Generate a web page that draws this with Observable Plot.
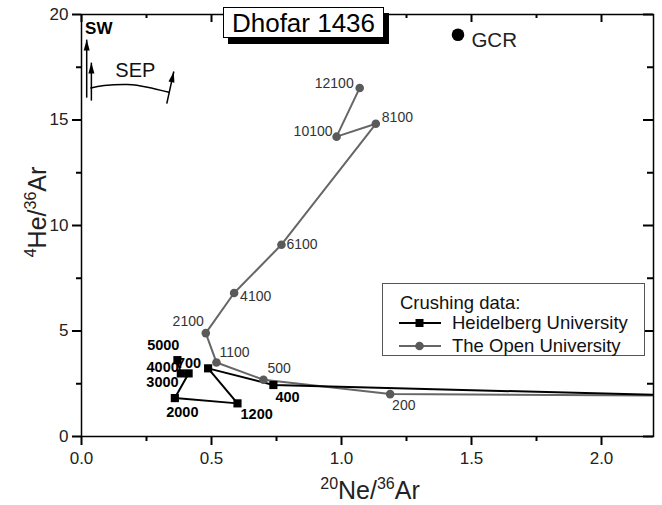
<!DOCTYPE html>
<html><head><meta charset="utf-8">
<script src="https://cdn.jsdelivr.net/npm/d3@7"></script>
<script src="https://cdn.jsdelivr.net/npm/@observablehq/plot@0.6"></script>
<style>
body{margin:0;background:#fff;font-family:"Liberation Sans",Arial,sans-serif;}
#wrap{position:relative;width:662px;height:505px;}
#title{position:absolute;left:223px;top:7px;width:159px;height:29px;border:1px solid #000;background:#fff;box-shadow:5px 6px 0 #000;font-size:26px;line-height:30px;text-align:center;color:#000;}
#legend{position:absolute;left:382px;top:283px;width:261px;height:71px;border:1px solid #555;background:#fff;font-size:18.5px;color:#111;}
#legend .row{position:absolute;left:0;height:22px;line-height:22px;white-space:nowrap;}
#legend .sw{position:absolute;left:15px;top:0;}
#legend .lab{position:absolute;left:69px;top:0;}
</style></head>
<body>
<div id="wrap"><div id="chart"></div>
<div id="title">Dhofar 1436</div>
<div id="legend">
  <div class="row" style="top:8px;left:17px">Crushing data:</div>
  <div class="row" style="top:28px;width:260px"><svg class="sw" width="44" height="22"><line x1="1" y1="11" x2="43" y2="11" stroke="#000" stroke-width="2"/><rect x="17.5" y="7" width="8" height="8" fill="#000"/></svg><span class="lab">Heidelberg University</span></div>
  <div class="row" style="top:51px;width:260px"><svg class="sw" width="44" height="22"><line x1="1" y1="11" x2="43" y2="11" stroke="#666" stroke-width="2"/><circle cx="21.5" cy="11" r="4.3" fill="#5a5a5a"/></svg><span class="lab">The Open University</span></div>
</div>
</div>
<script>
// The Open University crushing steps (last point lies beyond the x range)
const ouLabel = ["12100","10100","8100","6100","4100","2100","1100","500","200",""];
const ouNe = [1.070,0.981,1.132,0.769,0.587,0.478,0.519,0.700,1.187,3.0];
const ouHe = [16.52,14.21,14.82,9.09,6.80,4.90,3.51,2.69,2.01,1.90];
// Heidelberg University crushing steps (first point lies beyond the x range)
const hdLabel = ["","400","700","1200","2000","3000","4000","5000"];
const hdNe = [3.0,0.738,0.487,0.600,0.359,0.412,0.382,0.369];
const hdHe = [1.72,2.44,3.23,1.57,1.82,2.99,2.99,3.62];
// GCR end-member
const gcrNe = [1.448];
const gcrHe = [19.04];
// SW / SEP arrows (tail -> tip)
const arrowX1 = [0.020,0.038,0.328];
const arrowY1 = [16.06,15.92,15.78];
const arrowX2 = [0.020,0.038,0.355];
const arrowY2 = [18.81,17.72,17.30];
const sepCurveX = [0.036,0.087,0.177,0.254,0.337];
const sepCurveY = [16.52,16.63,16.68,16.55,16.31];
const xMajor = [0,0.5,1,1.5,2];
const xMinor = [0.25,0.75,1.25,1.75];
const yMajor = [0,5,10,15,20];
const yMinor = [2.5,7.5,12.5,17.5];

// label layout (pixels)
const ouAnchor = ["end","end","start","start","start","end","start","start","start","start"];
const ouDx = [-6,-4,6,5,6,-2,3,4,2,0];
const ouDy = [-4,-5,-6,0,3,-12,-10,-11,11,0];
const hdAnchor = ["start","start","end","start","middle","end","end","end"];
const hdDx = [0,2,-7,3,7.5,-10,-2,2];
const hdDy = [0,12,-5,11,14,9.3,-5.7,-15];

const ou = ouLabel.map((l,i)=>({label:l, x:ouNe[i], y:ouHe[i]}));
const hd = hdLabel.map((l,i)=>({label:l, x:hdNe[i], y:hdHe[i]}));
const gcr = gcrNe.map((x,i)=>({x, y:gcrHe[i]}));
const arrows = arrowX1.map((x,i)=>({x1:x, y1:arrowY1[i], x2:arrowX2[i], y2:arrowY2[i]}));
const sep = sepCurveX.map((x,i)=>({x, y:sepCurveY[i]}));

const head = {draw(ctx){ ctx.moveTo(0,0); ctx.lineTo(3,11); ctx.lineTo(-3,11); ctx.closePath(); }};

const FH = 422, FW = 572;
const tk = {stroke:"#000", strokeWidth:2};
const marks = [
  Plot.frame({stroke:"#000", strokeWidth:1.5}),
  Plot.tickX(xMajor, {x:d=>d, insetTop:FH, insetBottom:-9, ...tk}),
  Plot.tickX(xMinor, {x:d=>d, insetTop:FH, insetBottom:-5, ...tk}),
  Plot.tickX(xMajor, {x:d=>d, insetTop:0, insetBottom:FH-8, ...tk}),
  Plot.tickX(xMinor, {x:d=>d, insetTop:0, insetBottom:FH-4, ...tk}),
  Plot.tickY(yMajor, {y:d=>d, insetLeft:-9, insetRight:FW, ...tk}),
  Plot.tickY(yMinor, {y:d=>d, insetLeft:-5, insetRight:FW, ...tk}),
  Plot.tickY(yMajor, {y:d=>d, insetLeft:FW-10, insetRight:0, ...tk}),
  Plot.tickY(yMinor, {y:d=>d, insetLeft:FW-6, insetRight:0, ...tk}),
  Plot.axisX({ticks:xMajor, tickFormat:d3.format(".1f"), tickSize:0, tickPadding:15, fontSize:17, label:null}),
  Plot.axisY({ticks:yMajor, tickSize:0, tickPadding:13, fontSize:17, label:null}),
  Plot.link(arrows, {x1:"x1", y1:"y1", x2:"x2", y2:"y2", stroke:"#000", strokeWidth:1.5}),
  Plot.dot(arrows, {x:"x2", y:"y2", symbol:head, fill:"#000", stroke:null, rotate:d=>Math.atan2((d.x2-d.x1)*260,(d.y2-d.y1)*21.1)*180/Math.PI}),
  Plot.line(sep, {x:"x", y:"y", curve:"natural", stroke:"#000", strokeWidth:1.5}),
  Plot.text(["SW"], {x:[0.0665], y:[19.34], text:d=>d, fontSize:17, fontWeight:"bold", fill:"#000"}),
  Plot.text(["SEP"], {x:[0.207], y:[17.34], text:d=>d, fontSize:20, fill:"#111"}),
  Plot.line(ou, {x:"x", y:"y", stroke:"#666", strokeWidth:2, clip:true}),
  Plot.line(hd, {x:"x", y:"y", stroke:"#000", strokeWidth:2, clip:true}),
  Plot.dot(ou, {x:"x", y:"y", r:4.3, fill:"#5a5a5a", clip:true}),
  Plot.dot(hd, {x:"x", y:"y", symbol:"square", r:4.6, fill:"#000", clip:true}),
  Plot.dot(gcr, {x:"x", y:"y", r:6.3, fill:"#000"}),
  Plot.text(gcr, {x:"x", y:"y", text:()=>"GCR", textAnchor:"start", dx:13.4, dy:5.7, fontSize:20.5, fill:"#222"}),
  ...ou.map((d,i)=>Plot.text([d], {x:"x", y:"y", text:"label", textAnchor:ouAnchor[i], dx:ouDx[i], dy:ouDy[i], fontSize:14, fill:"#333", clip:true})),
  ...hd.map((d,i)=>Plot.text([d], {x:"x", y:"y", text:"label", textAnchor:hdAnchor[i], dx:hdDx[i], dy:hdDy[i], fontSize:14.5, fontWeight:"bold", fill:"#000", clip:true}))
];

const chart = Plot.plot({
  width:662, height:505,
  marginLeft:81, marginRight:9, marginTop:14, marginBottom:69,
  style:{fontFamily:"'Liberation Sans', Arial, sans-serif", color:"#222"},
  x:{domain:[0,2.2]},
  y:{domain:[0,20]},
  marks
});
document.getElementById("chart").appendChild(chart);

const svg = d3.select(chart);
const xt = svg.append("text").attr("x",370).attr("y",499).attr("text-anchor","middle")
  .attr("font-size",25).attr("fill","#222").attr("font-family","'Liberation Sans', Arial, sans-serif");
xt.append("tspan").attr("font-size",16).attr("dy",-10).text("20");
xt.append("tspan").attr("dy",10).text("Ne/");
xt.append("tspan").attr("font-size",16).attr("dy",-10).text("36");
xt.append("tspan").attr("dy",10).text("Ar");
const yt = svg.append("text").attr("transform","translate(46,212) rotate(-90)").attr("text-anchor","middle")
  .attr("font-size",25).attr("fill","#222").attr("font-family","'Liberation Sans', Arial, sans-serif");
yt.append("tspan").attr("font-size",16).attr("dy",-10).text("4");
yt.append("tspan").attr("dy",10).text("He/");
yt.append("tspan").attr("font-size",16).attr("dy",-10).text("36");
yt.append("tspan").attr("dy",10).text("Ar");
</script>
</body></html>
